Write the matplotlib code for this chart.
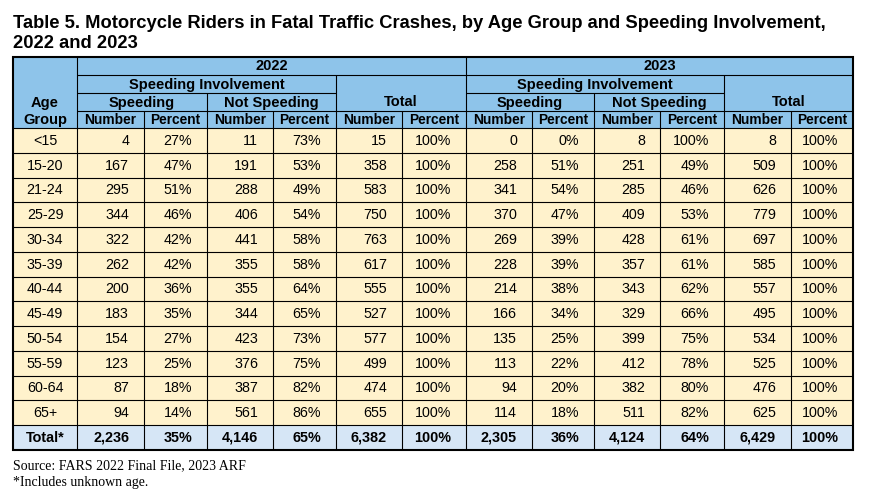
import matplotlib
matplotlib.use('Agg')
import matplotlib.pyplot as plt
from matplotlib.patches import Rectangle

# table values
ages = ['<15', '15-20', '21-24', '25-29', '30-34', '35-39', '40-44',
        '45-49', '50-54', '55-59', '60-64', '65+']
sp22 = [4, 167, 295, 344, 322, 262, 200, 183, 154, 123, 87, 94]
sp22_pct = [27, 47, 51, 46, 42, 42, 36, 35, 27, 25, 18, 14]
ns22 = [11, 191, 288, 406, 441, 355, 355, 344, 423, 376, 387, 561]
ns22_pct = [73, 53, 49, 54, 58, 58, 64, 65, 73, 75, 82, 86]
tot22 = [15, 358, 583, 750, 763, 617, 555, 527, 577, 499, 474, 655]
sp23 = [0, 258, 341, 370, 269, 228, 214, 166, 135, 113, 94, 114]
sp23_pct = [0, 51, 54, 47, 39, 39, 38, 34, 25, 22, 20, 18]
ns23 = [8, 251, 285, 409, 428, 357, 343, 329, 399, 412, 382, 511]
ns23_pct = [100, 49, 46, 53, 61, 61, 62, 66, 75, 78, 80, 82]
tot23 = [8, 509, 626, 779, 697, 585, 557, 495, 534, 525, 476, 625]
total_row = ['Total*', '2,236', '35%', '4,146', '65%', '6,382', '100%',
             '2,305', '36%', '4,124', '64%', '6,429', '100%']

title_lines = ['Table 5. Motorcycle Riders in Fatal Traffic Crashes, by Age Group and Speeding Involvement,',
               '2022 and 2023']
notes = ['Source: FARS 2022 Final File, 2023 ARF', '*Includes unknown age.']

HEAD = '#8EC4EA'
CREAM = '#FFF2CC'
TOTC = '#D6E6F6'

# layout in pixels
xs = [13, 77, 144, 207, 273, 336, 402, 466, 532, 594, 660, 724, 791, 853]
hy = [57, 75, 93, 111, 128]
rh = 24.75
ytot = hy[-1] + rh * len(ages)
ybot = 450

fig = plt.figure(figsize=(8.72, 5.0), dpi=100)
ax = fig.add_axes([0, 0, 1, 1])
ax.set_xlim(0, 872)
ax.set_ylim(500, 0)
ax.axis('off')

FONT = 'Liberation Sans'

for k, line in enumerate(title_lines):
    ax.text(13, 27.5 + 21 * k, line, fontsize=13.2, fontweight='bold', family=FONT,
            va='baseline', ha='left')

# backgrounds
ax.add_patch(Rectangle((xs[0], hy[0]), xs[-1] - xs[0], hy[-1] - hy[0], color=HEAD, lw=0))
ax.add_patch(Rectangle((xs[0], hy[-1]), xs[-1] - xs[0], ytot - hy[-1], color=CREAM, lw=0))
ax.add_patch(Rectangle((xs[0], ytot), xs[-1] - xs[0], ybot - ytot, color=TOTC, lw=0))

def hline(y, x0, x1, lw=1.0):
    ax.plot([x0, x1], [y, y], color='black', lw=lw, solid_capstyle='butt')

def vline(x, y0, y1, lw=1.0):
    ax.plot([x, x], [y0, y1], color='black', lw=lw, solid_capstyle='butt')

LW = 0.8
# header lines
for g0 in (1, 7):
    hline(hy[1], xs[g0], xs[g0 + 6], LW)
    hline(hy[2], xs[g0], xs[g0 + 4], LW)
    hline(hy[3], xs[g0], xs[g0 + 6], LW)
    vline(xs[g0 + 2], hy[2], ybot, LW)
    vline(xs[g0 + 4], hy[1], ybot, LW)
    vline(xs[g0 + 1], hy[3], ybot, LW)
    vline(xs[g0 + 3], hy[3], ybot, LW)
    vline(xs[g0 + 5], hy[3], ybot, LW)
vline(xs[1], hy[0], ybot, LW)
vline(xs[7], hy[0], ybot, LW)
hline(hy[4], xs[0], xs[-1], LW)
for i in range(1, len(ages) + 1):
    hline(hy[-1] + rh * i, xs[0], xs[-1], LW)
ax.add_patch(Rectangle((xs[0], hy[0]), xs[-1] - xs[0], ybot - hy[0],
                       fill=False, ec='black', lw=1.5))

# header text
hkw = dict(fontweight='bold', family=FONT, ha='center', va='center')
for g0, yr in ((1, '2022'), (7, '2023')):
    ax.text((xs[g0] + xs[g0 + 6]) / 2, (hy[0] + hy[1]) / 2 + 0.5, yr, fontsize=10.5, **hkw)
    ax.text((xs[g0] + xs[g0 + 4]) / 2, (hy[1] + hy[2]) / 2 + 0.5, 'Speeding Involvement', fontsize=10.5, **hkw)
    ax.text((xs[g0] + xs[g0 + 2]) / 2, (hy[2] + hy[3]) / 2 + 0.5, 'Speeding', fontsize=10.5, **hkw)
    ax.text((xs[g0 + 2] + xs[g0 + 4]) / 2, (hy[2] + hy[3]) / 2 + 0.5, 'Not Speeding', fontsize=10.5, **hkw)
    ax.text((xs[g0 + 4] + xs[g0 + 6]) / 2, (hy[2] + hy[3]) / 2 + 0.5, 'Total', fontsize=10.5, **hkw)
    for k in range(6):
        lab = 'Number' if k % 2 == 0 else 'Percent'
        ax.text((xs[g0 + k] + xs[g0 + k + 1]) / 2, (hy[3] + hy[4]) / 2 + 0.5, lab, fontsize=9.9, **hkw)
ax.text((xs[0] + xs[1]) / 2, (hy[2] + hy[3]) / 2 + 0.5, 'Age', fontsize=10.5, **hkw)
ax.text((xs[0] + xs[1]) / 2, (hy[3] + hy[4]) / 2 + 0.5, 'Group', fontsize=10.5, **hkw)

# body
cols = [sp22, sp22_pct, ns22, ns22_pct, tot22, None,
        sp23, sp23_pct, ns23, ns23_pct, tot23, None]
PAD = 15
FS = 10.3
for i, age in enumerate(ages):
    yc = hy[-1] + rh * (i + 0.5) + 0.5
    ax.text((xs[0] + xs[1]) / 2, yc, age, fontsize=FS, family=FONT, ha='center', va='center')
    for c, vals in enumerate(cols):
        if vals is None:
            s = '100%'
        elif c % 2 == 1:
            s = f'{vals[i]}%'
        else:
            s = f'{vals[i]:,}'
        ax.text(xs[c + 2] - PAD, yc, s, fontsize=FS, family=FONT, ha='right', va='center')

yc = (ytot + ybot) / 2 + 0.5
ax.text((xs[0] + xs[1]) / 2, yc, total_row[0], fontsize=10.4, fontweight='bold',
        family=FONT, ha='center', va='center')
for c, s in enumerate(total_row[1:]):
    ax.text(xs[c + 2] - PAD, yc, s, fontsize=10.4, fontweight='bold', family=FONT,
            ha='right', va='center')

# notes
ax.text(13, 469, notes[0], fontsize=10, family='Liberation Serif', ha='left', va='baseline')
ax.text(13, 486, notes[1], fontsize=10, family='Liberation Serif', ha='left', va='baseline')

fig.savefig('out.png', dpi=100)
